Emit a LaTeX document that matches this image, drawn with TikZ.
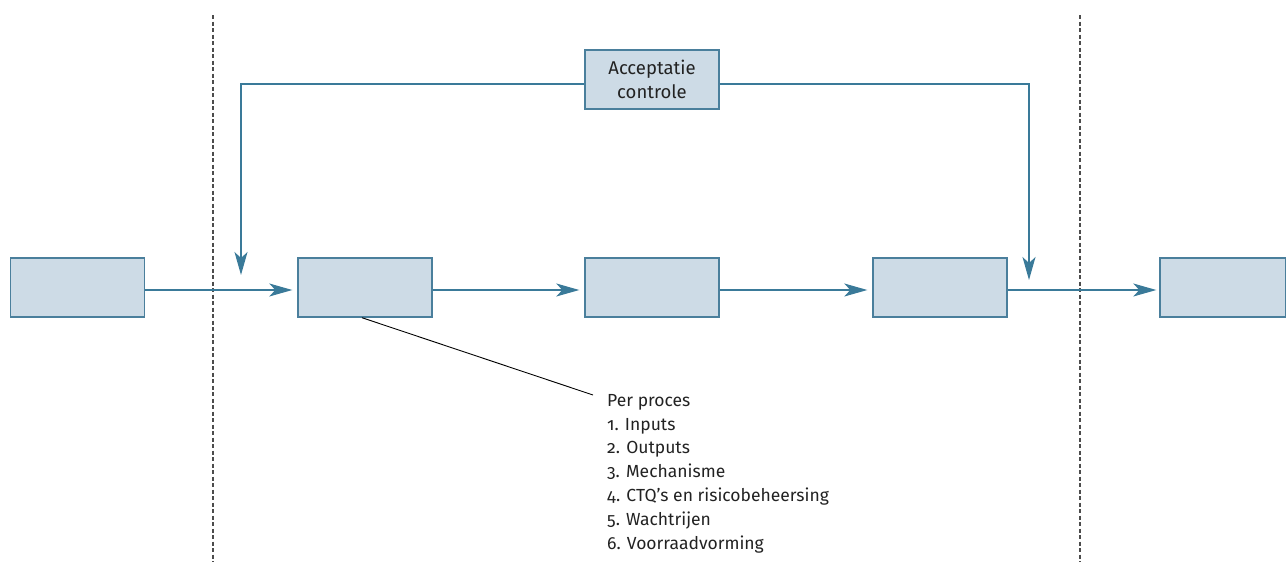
\documentclass[tikz,border=0pt]{standalone}
\usepackage{fontspec}
\setmainfont{Fira Sans}[Numbers=OldStyle]
\usetikzlibrary{arrows.meta}
\definecolor{boxfill}{HTML}{CDDBE6}
\definecolor{boxline}{HTML}{4A7F9C}
\definecolor{flow}{HTML}{3A7A99}
\definecolor{ink}{HTML}{222222}
\tikzset{
  procbox/.style={draw=boxline, fill=boxfill, line width=1.4pt, minimum width=134pt, minimum height=59pt, inner sep=0pt, align=center, text=ink, font=\fontsize{18.5}{24}\selectfont},
  flowline/.style={draw=flow, line width=1.3pt, -{Stealth[length=23pt, width=13pt, inset=6pt]}},
  border/.style={dash pattern=on 4pt off 2.5pt, line width=1.3pt, black!70}
}

\begin{document}
\begin{tikzpicture}[x=1pt, y=-1pt]
\useasboundingbox (0,0) rectangle (1286,565);
% Borders
    \draw[border] (213,15) -- (213,562);
    \draw[border] (1080,15) -- (1080,562);
% Boxes
    \node[procbox] (p1) at (77.5,287.5) {};
    \node[procbox] (p2) at (365,287.5) {};
    \node[procbox] (p3) at (652,287.5) {};
    \node[procbox] (p4) at (940,287.5) {};
    \node[procbox, minimum width=126pt] (p5) at (1223,287.5) {};
    \node[procbox] (acc) at (652,79.5) {Acceptatie\\controle};
% Flow
    \draw[flowline] ([yshift=-2.5pt]p1.east) -- ([xshift=-5pt, yshift=-2.5pt]p2.west);
    \draw[flowline] ([yshift=-2.5pt]p2.east) -- ([xshift=-5pt, yshift=-2.5pt]p3.west);
    \draw[flowline] ([yshift=-2.5pt]p3.east) -- ([xshift=-5pt, yshift=-2.5pt]p4.west);
    \draw[flowline] ([yshift=-2.5pt]p4.east) -- ([xshift=-3pt, yshift=-2.5pt]p5.west);
% Acceptance loop
    \coordinate (in) at (241,275);
    \coordinate (out) at (1029,280);
    \draw[flowline] ([yshift=-4.5pt]acc.west) -| (in);
    \draw[flowline] ([yshift=-4.5pt]acc.east) -| (out);
% Note
    \node[anchor=north west, align=left, inner sep=0pt, text=ink, font=\fontsize{17.5}{23.8}\selectfont] (note) at (607,394)
      {Per proces\\1. Inputs\\2. Outputs\\3. Mechanisme\\4. CTQ’s en risicobeheersing\\5. Wachtrijen\\6. Voorraadvorming};
    \coordinate (tip) at (593,395);
    \draw[line width=0.9pt] ([xshift=-3pt]p2.south) -- (tip);
\end{tikzpicture}
\end{document}
